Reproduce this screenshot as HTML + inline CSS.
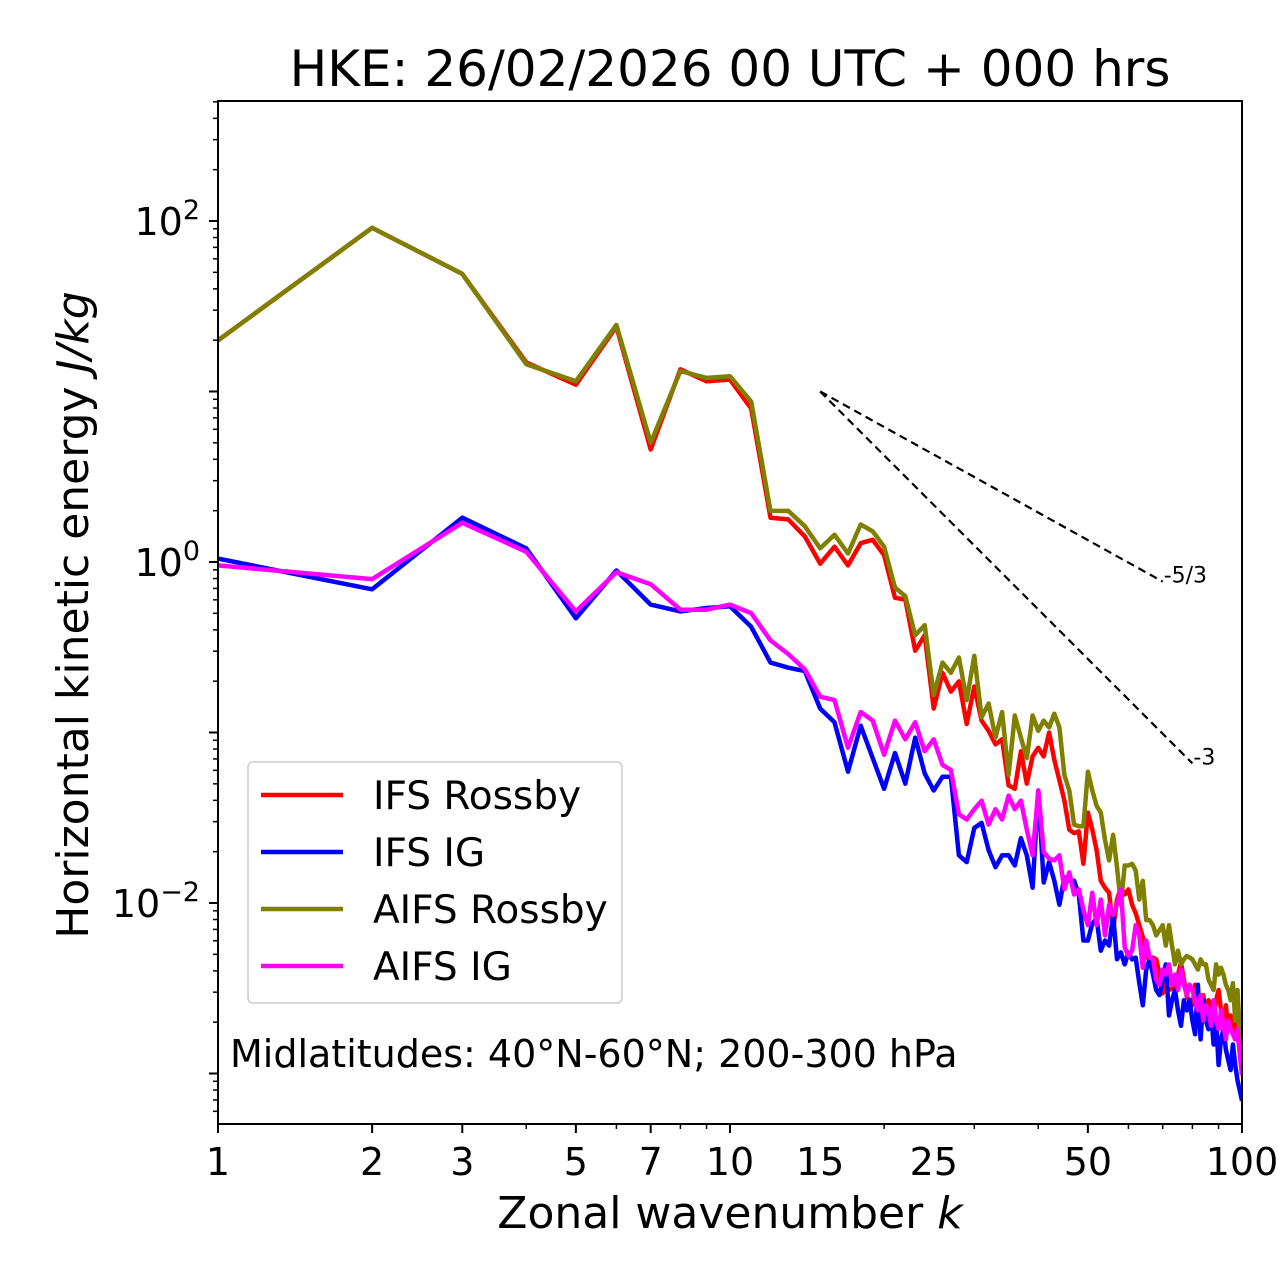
<!DOCTYPE html>
<html><head><meta charset="utf-8"><style>
body{margin:0;background:#fff;}
svg{display:block;font-family:"DejaVu Sans","Liberation Sans",sans-serif;}
</style></head><body>
<svg id="chart" width="1280" height="1288" viewBox="0 0 1280 1288" xmlns="http://www.w3.org/2000/svg">
<rect width="1280" height="1288" fill="#fff"/>
<text x="730" y="86" font-size="50" text-anchor="middle">HKE: 26/02/2026 00 UTC + 000 hrs</text>
<g id="plot"></g>
<text x="730" y="1228" font-size="44" text-anchor="middle">Zonal wavenumber <tspan font-style="italic">k</tspan></text>
<text transform="translate(88,615) rotate(-90)" font-size="44" text-anchor="middle">Horizontal kinetic energy <tspan font-style="italic">J/kg</tspan></text>
</svg>
<script>
const xTickValues=[1,2,3,5,7,10,15,25,50,100];
const xTickLabels=["1","2","3","5","7","10","15","25","50","100"];
const yMajorExponents=[-2,0,2];
const ifsRossbyLogE=[1.30,1.96,1.69,1.17,1.04,1.38,0.66,1.13,1.06,1.07,0.90,0.26,0.25,0.15,-0.01,0.09,-0.02,0.11,0.13,0.04,-0.21,-0.22,-0.52,-0.43,-0.86,-0.65,-0.76,-0.70,-0.95,-0.73,-0.93,-0.99,-1.07,-1.04,-1.31,-1.33,-1.11,-1.30,-1.14,-1.09,-1.14,-1.00,-1.16,-1.28,-1.40,-1.57,-1.59,-1.58,-1.77,-1.47,-1.57,-1.69,-1.87,-1.91,-1.94,-2.16,-1.98,-1.91,-1.95,-1.92,-2.01,-2.06,-2.13,-2.20,-2.28,-2.35,-2.32,-2.33,-2.42,-2.53,-2.48,-2.51,-2.50,-2.49,-2.42,-2.35,-2.45,-2.55,-2.57,-2.60,-2.48,-2.57,-2.65,-2.54,-2.63,-2.57,-2.60,-2.66,-2.57,-2.51,-2.63,-2.69,-2.60,-2.74,-2.66,-2.72,-2.80,-2.63,-2.86,-3.00];
const ifsIGLogE=[0.02,-0.16,0.26,0.08,-0.33,-0.05,-0.25,-0.29,-0.27,-0.26,-0.38,-0.59,-0.62,-0.64,-0.86,-0.94,-1.23,-0.96,-1.15,-1.33,-1.12,-1.30,-1.03,-1.24,-1.34,-1.26,-1.26,-1.72,-1.76,-1.56,-1.53,-1.69,-1.79,-1.72,-1.72,-1.78,-1.62,-1.72,-1.91,-1.34,-1.88,-1.76,-1.87,-2.01,-1.85,-1.87,-1.87,-1.95,-2.22,-2.22,-2.12,-2.09,-2.28,-2.22,-2.25,-2.07,-2.33,-2.29,-2.36,-2.29,-2.33,-2.32,-2.47,-2.60,-2.39,-2.33,-2.42,-2.51,-2.54,-2.45,-2.36,-2.66,-2.57,-2.51,-2.63,-2.72,-2.57,-2.63,-2.57,-2.69,-2.77,-2.48,-2.80,-2.57,-2.69,-2.74,-2.63,-2.83,-2.69,-2.95,-2.80,-2.74,-2.86,-2.92,-2.98,-2.83,-2.95,-3.04,-3.10,-3.16];
const aifsRossbyLogE=[1.30,1.96,1.69,1.16,1.06,1.39,0.70,1.12,1.08,1.09,0.94,0.30,0.30,0.21,0.08,0.16,0.05,0.22,0.18,0.09,-0.15,-0.20,-0.43,-0.37,-0.78,-0.59,-0.65,-0.56,-0.81,-0.55,-0.91,-0.83,-1.03,-0.88,-1.25,-0.90,-1.03,-1.15,-0.90,-0.99,-0.93,-0.97,-0.89,-0.97,-1.25,-1.34,-1.54,-1.55,-1.55,-1.23,-1.34,-1.43,-1.47,-1.63,-1.75,-1.60,-1.79,-2.01,-1.78,-1.78,-1.77,-1.81,-1.98,-1.87,-2.10,-2.10,-2.13,-2.19,-2.16,-2.13,-2.25,-2.13,-2.25,-2.36,-2.28,-2.36,-2.33,-2.31,-2.32,-2.33,-2.36,-2.39,-2.33,-2.36,-2.36,-2.45,-2.48,-2.51,-2.36,-2.42,-2.38,-2.42,-2.48,-2.51,-2.57,-2.47,-2.69,-2.51,-2.77,-2.80];
const aifsIGLogE=[-0.02,-0.10,0.23,0.06,-0.29,-0.06,-0.13,-0.28,-0.28,-0.25,-0.30,-0.46,-0.54,-0.63,-0.79,-0.81,-1.09,-0.88,-0.93,-1.13,-0.93,-1.04,-0.94,-1.11,-1.04,-1.19,-1.22,-1.48,-1.51,-1.45,-1.40,-1.54,-1.45,-1.51,-1.37,-1.45,-1.40,-1.57,-1.72,-1.34,-1.70,-1.74,-1.75,-1.72,-1.92,-1.82,-1.95,-1.92,-2.04,-2.13,-1.94,-2.13,-1.98,-2.19,-2.01,-2.07,-2.01,-1.92,-2.26,-2.31,-2.28,-2.13,-2.19,-2.38,-2.22,-2.32,-2.33,-2.45,-2.48,-2.39,-2.42,-2.36,-2.48,-2.42,-2.51,-2.39,-2.48,-2.54,-2.48,-2.51,-2.57,-2.63,-2.54,-2.69,-2.60,-2.63,-2.72,-2.57,-2.69,-2.74,-2.63,-2.72,-2.80,-2.69,-2.74,-2.77,-2.80,-2.74,-2.89,-3.01];
const refStartK=15, refStartE=10;
const refSlopes=[-5/3,-3];
const refEndK=[70,80];
const refLabels=["-5/3","-3"];

const L=218,R=1242,T=101,B=1124;
const xMin=1,xMax=100;
const yMaxLog=2+(221-101)/170.5, yMinLog=-2-(1124-903)/170.5;
function xs(k){return L+(Math.log10(k)-Math.log10(xMin))/(Math.log10(xMax)-Math.log10(xMin))*(R-L);}
function ysLog(e){return T+(yMaxLog-e)/(yMaxLog-yMinLog)*(B-T);}
function ys(v){return ysLog(Math.log10(v));}
const NS="http://www.w3.org/2000/svg";
const plot=document.getElementById('plot');
function mk(tag,attrs,parent){const el=document.createElementNS(NS,tag);for(const a in attrs)el.setAttribute(a,attrs[a]);(parent||plot).appendChild(el);return el;}

const series=[["ifs-rossby-line",ifsRossbyLogE,"#ff0000"],["ifs-ig-line",ifsIGLogE,"#0000ff"],["aifs-rossby-line",aifsRossbyLogE,"#808000"],["aifs-ig-line",aifsIGLogE,"#ff00ff"]];
const clip=mk('clipPath',{id:'pc'});mk('rect',{x:L,y:T,width:R-L,height:B-T},clip);
series.forEach(s=>{
  const pts=s[1].map((e,i)=>xs(i+1).toFixed(1)+','+ysLog(e).toFixed(1)).join(' ');
  const p=mk('polyline',{points:pts,fill:'none',stroke:s[2],'stroke-width':4.5,'stroke-linejoin':'round','clip-path':'url(#pc)'});
  
  
});
refSlopes.forEach((sl,i)=>{
  const eEnd=refStartE*Math.pow(refEndK[i]/refStartK,sl);
  const l=mk('line',{x1:xs(refStartK),y1:ys(refStartE),x2:xs(refEndK[i]),y2:ys(eEnd),stroke:'#000','stroke-width':2.2,'stroke-dasharray':'8,5'});
  
  
  const t=mk('text',{x:xs(refEndK[i])+1,y:ys(eEnd)+1,'font-size':22});
  t.textContent=refLabels[i];
  
  
});
const fr=mk('rect',{x:L,y:T,width:R-L,height:B-T,fill:'none',stroke:'#000','stroke-width':2});


for(let d=1;d<=100;d*=10){for(let m=1;m<10;m++){const k=d*m;if(k>100)break;
  const t=mk('line',{x1:xs(k),x2:xs(k),y1:B,y2:B+(xTickValues.includes(k)?9:5),stroke:'#000','stroke-width':(xTickValues.includes(k)?2:1.5)});
  
  
}}
xTickValues.forEach((v,i)=>{
  const t=mk('text',{x:xs(v),y:1175,'font-size':38,'text-anchor':'middle'});
  t.textContent=xTickLabels[i];
  
  
});
for(let e=-4;e<=3;e++){for(let m=1;m<10;m++){const lv=e+Math.log10(m);if(lv<yMinLog||lv>yMaxLog)continue;
  const major=m===1;
  const t=mk('line',{x1:L,x2:L-(major?9:5),y1:ysLog(lv),y2:ysLog(lv),stroke:'#000','stroke-width':major?2:1.5});
  
  
}}
yMajorExponents.forEach(e=>{
  const t=mk('text',{x:200,y:ysLog(e)+14,'font-size':38,'text-anchor':'end'});
  t.innerHTML='10<tspan dy="-16" font-size="27">'+(e<0?'\u2212'+(-e):e)+'</tspan>';
  
  
});
const lg=mk('g',{});


mk('rect',{x:248,y:762,width:374,height:241,rx:5,fill:'#fff','fill-opacity':0.8,stroke:'#ccc','stroke-width':1.5},lg);
const legendNames=["IFS Rossby","IFS IG","AIFS Rossby","AIFS IG"];
series.forEach((s,i)=>{
  const y=795+i*57;
  const l=mk('line',{x1:261,x2:343,y1:y,y2:y,stroke:s[2],'stroke-width':4.5},lg);
  
  
  const t=mk('text',{x:373,y:y+14,'font-size':39},lg);
  t.textContent=legendNames[i];
  
  
});
const an=mk('text',{x:230,y:1067,'font-size':38});
an.textContent="Midlatitudes: 40\u00b0N-60\u00b0N; 200-300 hPa";


</script>
</body></html>
